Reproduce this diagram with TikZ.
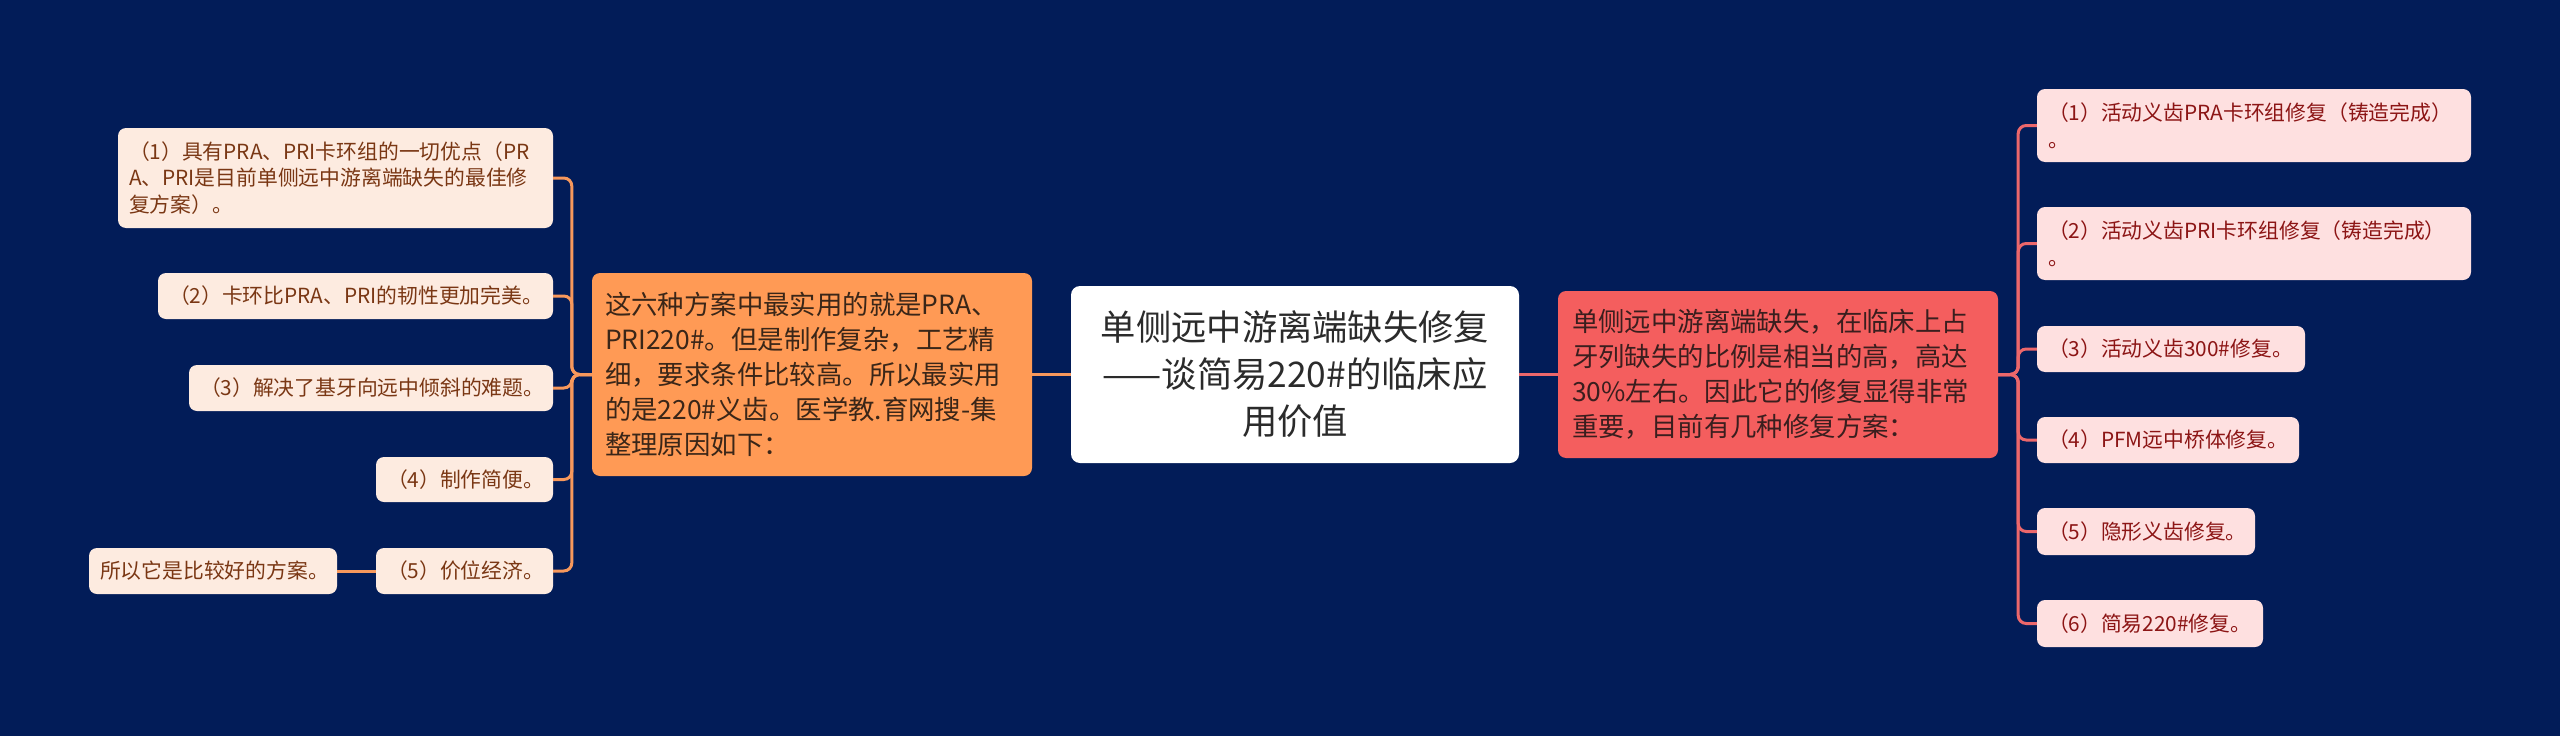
\documentclass[tikz,border=0pt]{standalone}
\usepackage{fontspec}
\setmainfont{Noto Sans CJK SC}
\definecolor{bg}{HTML}{021C58}
\definecolor{orgnode}{HTML}{FF9A55}
\definecolor{orgline}{HTML}{F7985C}
\definecolor{lleaf}{HTML}{FDEBE0}
\definecolor{ltext}{HTML}{7A3714}
\definecolor{otext}{HTML}{3A2618}
\definecolor{rednode}{HTML}{F45E5E}
\definecolor{redline}{HTML}{EC676B}
\definecolor{rleaf}{HTML}{FEE0E0}
\definecolor{rtext}{HTML}{8C1515}
\definecolor{rntext}{HTML}{3A1E1E}
\definecolor{ctext}{HTML}{2B2B2B}
\tikzset{
  boxbase/.style={rounded corners=8pt, inner ysep=0pt, anchor=center, align=left},
  lleafbox/.style={boxbase, fill=lleaf, text=ltext, inner xsep=11pt,
    font=\fontsize{20.8}{26.7}\selectfont},
  rleafbox/.style={boxbase, fill=rleaf, text=rtext, inner xsep=11pt,
    font=\fontsize{20.8}{27}\selectfont},
  onodebox/.style={boxbase, fill=orgnode, text=otext, inner xsep=13pt,
    font=\fontsize{26.4}{35}\selectfont},
  rnodebox/.style={boxbase, fill=rednode, text=rntext, inner xsep=14pt,
    font=\fontsize{26.4}{35}\selectfont},
  cnodebox/.style={rounded corners=9pt, inner ysep=0pt, inner xsep=10pt, anchor=center,
    align=center, fill=white, text=ctext, font=\fontsize{35.3}{47}\selectfont},
  oline/.style={draw=orgline, line width=3pt, rounded corners=8pt},
  rline/.style={draw=redline, line width=3pt, rounded corners=8pt}
}
\begin{document}
\begin{tikzpicture}[x=1pt,y=-1pt]
\useasboundingbox (0,0) rectangle (2560,736);
\fill[bg] (0,0) rectangle (2560,736);

% centre
\node[cnodebox, minimum width=448pt, minimum height=177pt, text width=428pt] (center) at (1295,374.5)
  {单侧远中游离端缺失修复\\——谈简易220\#的临床应\\用价值};

% left main
\node[onodebox, minimum width=440pt, minimum height=203pt, text width=414pt] (orange) at (812,374.5)
  {这六种方案中最实用的就是PRA、\\PRI220\#。但是制作复杂，工艺精\\细，要求条件比较高。所以最实用\\的是220\#义齿。医学教.育网搜-集\\整理原因如下：};

% right main
\node[rnodebox, minimum width=440pt, minimum height=167pt, text width=412pt] (red) at (1778,374.5)
  {单侧远中游离端缺失，在临床上占\\牙列缺失的比例是相当的高，高达\\30\%左右。因此它的修复显得非常\\重要，目前有几种修复方案：};

% left leaves
\node[lleafbox, minimum width=435pt, minimum height=100pt, text width=413pt] (L1) at (335.5,178)
  {（1）具有PRA、PRI卡环组的一切优点（PR\\A、PRI是目前单侧远中游离端缺失的最佳修\\复方案）。};
\node[lleafbox, minimum width=395pt, minimum height=46pt, text width=373pt] (L2) at (355.5,296)
  {（2）卡环比PRA、PRI的韧性更加完美。};
\node[lleafbox, minimum width=364pt, minimum height=46pt, text width=342pt] (L3) at (371,388)
  {（3）解决了基牙向远中倾斜的难题。};
\node[lleafbox, minimum width=177pt, minimum height=45pt, text width=155pt] (L4) at (464.5,479.5)
  {（4）制作简便。};
\node[lleafbox, minimum width=177pt, minimum height=46pt, text width=155pt] (L5) at (464.5,571)
  {（5）价位经济。};
\node[lleafbox, minimum width=248pt, minimum height=46pt, text width=226pt] (L5c) at (213,571)
  {所以它是比较好的方案。};

% right leaves
\node[rleafbox, minimum width=434pt, minimum height=73pt, text width=412pt] (R1) at (2254,125.5)
  {（1）活动义齿PRA卡环组修复（铸造完成）\\。};
\node[rleafbox, minimum width=434pt, minimum height=73pt, text width=412pt] (R2) at (2254,243.5)
  {（2）活动义齿PRI卡环组修复（铸造完成）\\。};
\node[rleafbox, minimum width=268pt, minimum height=46pt, text width=246pt] (R3) at (2171,349)
  {（3）活动义齿300\#修复。};
\node[rleafbox, minimum width=262pt, minimum height=46pt, text width=240pt] (R4) at (2168,440)
  {（4）PFM远中桥体修复。};
\node[rleafbox, minimum width=218pt, minimum height=47pt, text width=196pt] (R5) at (2146,531.5)
  {（5）隐形义齿修复。};
\node[rleafbox, minimum width=226pt, minimum height=47pt, text width=204pt] (R6) at (2150,623.5)
  {（6）简易220\#修复。};

% connectors
\draw[oline] (orange.east) -- (center.west);
\draw[rline] (center.east) -- (red.west);
\foreach \n in {L1,L2,L3,L4,L5}
  \draw[oline] (orange.west) -- ++(-20,0) |- (\n.east);
\draw[oline] (L5.west) -- (L5c.east);
\foreach \n in {R1,R2,R3,R4,R5,R6}
  \draw[rline] (red.east) -- ++(20,0) |- (\n.west);
\end{tikzpicture}
\end{document}
